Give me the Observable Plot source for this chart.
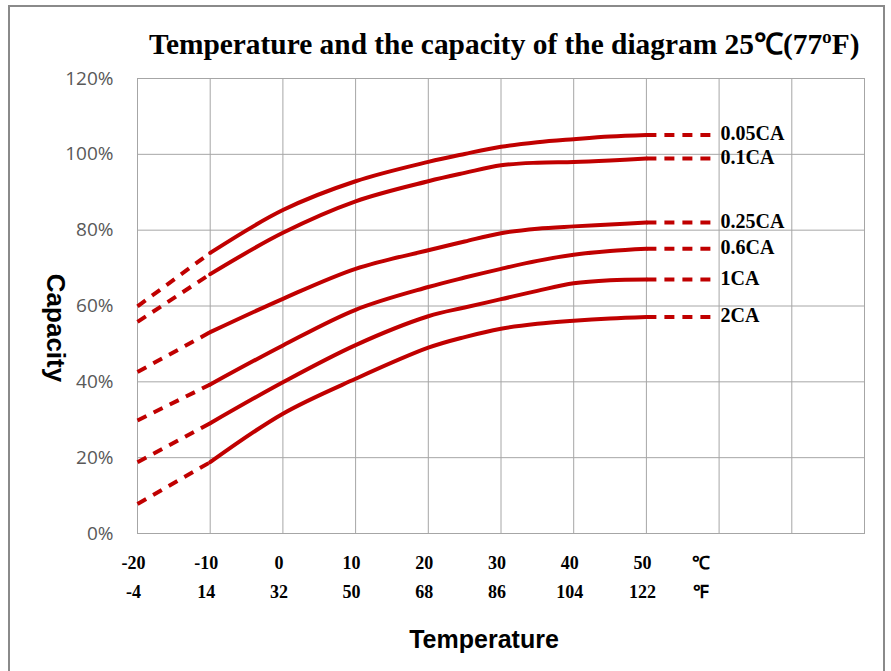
<!DOCTYPE html>
<html>
<head>
<meta charset="utf-8">
<script src="https://cdn.jsdelivr.net/npm/d3@7"></script>
<script src="https://cdn.jsdelivr.net/npm/@observablehq/plot@0.6"></script>
<style>
  html, body { margin: 0; padding: 0; background: #fff; }
  #wrap { position: relative; width: 891px; height: 671px; overflow: hidden; background: #fff; }
  #border { position: absolute; left: 8px; top: 5px; width: 877px; height: 700px; border: 2px solid #8a8a8a; box-sizing: border-box; }
  #title { position: absolute; left: 149px; top: 30px; font-family: "Liberation Serif", "Times New Roman", serif; font-weight: bold; font-size: 29.4px; line-height: 1; white-space: nowrap; color: #000; }
  #chart { position: absolute; left: 0; top: 0; }
</style>
</head>
<body>
<div id="wrap">
  <div id="border"></div>
  <div id="chart"></div>
  <div id="title">Temperature and the capacity of the diagram 25℃(77ºF)</div>
</div>
<script>
// ---- data ----
const seriesNames = ["0.05CA", "0.1CA", "0.25CA", "0.6CA", "1CA", "2CA"];
const tempsMeasured = [-10, 0, 10, 20, 25, 30, 35, 40, 45, 50];
const cap005 = [74.0, 85.3, 92.9, 98.0, 100.1, 102.0, 103.2, 104.0, 104.7, 105.1];
const cap01  = [68.4, 79.3, 87.6, 92.9, 95.1, 97.1, 97.8, 98.0, 98.4, 98.9];
const cap025 = [53.1, 61.9, 69.8, 74.7, 77.0, 79.2, 80.4, 81.0, 81.5, 82.0];
const cap06  = [39.3, 49.6, 59.0, 65.0, 67.5, 69.8, 71.9, 73.5, 74.5, 75.1];
const cap1   = [29.1, 39.9, 49.7, 57.3, 59.6, 61.8, 64.0, 66.0, 66.8, 67.0];
const cap2   = [18.8, 31.6, 40.8, 49.0, 51.8, 54.0, 55.3, 56.1, 56.7, 57.1];
const capAtMinus20 = [59.9, 55.8, 42.6, 29.8, 18.8, 7.8];
const extrapLowTemp = -20;
const extrapHighTemp = 59.5;

const celsiusTicks = [-20, -10, 0, 10, 20, 30, 40, 50];
const fahrenheitLabels = ["-4", "14", "32", "50", "68", "86", "104", "122"];
const unitTick = 58;
const unitC = "℃", unitF = "℉";
const gridTicksX = [-20, -10, 0, 10, 20, 30, 40, 50, 60, 70, 80];
const yTicks = [0, 20, 40, 60, 80, 100, 120];

// ---- build tables ----
const caps = [cap005, cap01, cap025, cap06, cap1, cap2];
const solid = seriesNames.flatMap((name, i) => tempsMeasured.map((t, j) => ({name, t, v: caps[i][j]})));
const dashLeft = seriesNames.flatMap((name, i) => [
  {name, t: extrapLowTemp, v: capAtMinus20[i]},
  {name, t: tempsMeasured[0], v: caps[i][0]}
]);
const lastIdx = tempsMeasured.length - 1;
const dashRight = seriesNames.flatMap((name, i) => [
  {name, t: tempsMeasured[lastIdx], v: caps[i][lastIdx]},
  {name, t: extrapHighTemp, v: caps[i][lastIdx]}
]);
const labelsData = seriesNames.map((name, i) => ({name, t: extrapHighTemp, v: caps[i][lastIdx]}));
const cTickData = celsiusTicks.map(t => ({t, label: String(t)})).concat([{t: unitTick, label: unitC}]);
const fTickData = celsiusTicks.map((t, i) => ({t, label: fahrenheitLabels[i]})).concat([{t: unitTick, label: unitF}]);

const red = "#c00000";
const gridColor = "#a6a6a6";
const serif = "Liberation Serif, Times New Roman, serif";

const chart = Plot.plot({
  width: 891,
  height: 671,
  marginLeft: 137,
  marginRight: 27,
  marginTop: 78,
  marginBottom: 138,
  x: {domain: [-20, 80], axis: null},
  y: {domain: [0, 120], axis: null},
  style: {background: "transparent", overflow: "visible"},
  marks: [
    Plot.gridX(gridTicksX, {stroke: gridColor, strokeOpacity: 1, strokeWidth: 1}),
    Plot.gridY(yTicks, {stroke: gridColor, strokeOpacity: 1, strokeWidth: 1}),
    Plot.frame({stroke: gridColor, strokeWidth: 1}),
    Plot.axisY(yTicks, {
      tickSize: 0, tickPadding: 24, tickFormat: d => d + "%",
      fontSize: 19, fontFamily: "Open Sans, sans-serif", color: "#595959", label: null
    }),
    Plot.line(dashLeft, {x: "t", y: "v", z: "name", stroke: red, strokeWidth: 4,
      strokeDasharray: "10,8", strokeLinecap: "butt"}),
    Plot.line(dashRight, {x: "t", y: "v", z: "name", stroke: red, strokeWidth: 4,
      strokeDasharray: "10,8", strokeLinecap: "butt"}),
    Plot.line(solid, {x: "t", y: "v", z: "name", stroke: red, strokeWidth: 4, curve: "catmull-rom"}),
    Plot.text(labelsData, {x: "t", y: "v", text: "name", textAnchor: "start", dx: 5, dy: -1,
      fontFamily: serif, fontWeight: "bold", fontSize: 20, fill: "#000"}),
    Plot.text(cTickData, {x: "t", text: "label", frameAnchor: "bottom", dy: 35, dx: -4,
      fontFamily: serif, fontWeight: "bold", fontSize: 18, fill: "#000"}),
    Plot.text(fTickData, {x: "t", text: "label", frameAnchor: "bottom", dy: 64, dx: -4,
      fontFamily: serif, fontWeight: "bold", fontSize: 18, fill: "#000"}),
    Plot.text(["Temperature"], {frameAnchor: "bottom", dy: 114, dx: -17, text: d => d,
      fontFamily: "Liberation Sans, Arial, sans-serif", fontWeight: "bold", fontSize: 25, fill: "#000"}),
    Plot.text(["Capacity"], {frameAnchor: "left", textAnchor: "middle", dx: -82, dy: 22, rotate: 90, text: d => d,
      fontFamily: "Liberation Sans, Arial, sans-serif", fontWeight: "bold", fontSize: 26, fill: "#000"})
  ]
});
document.getElementById("chart").appendChild(chart);
</script>
</body>
</html>
